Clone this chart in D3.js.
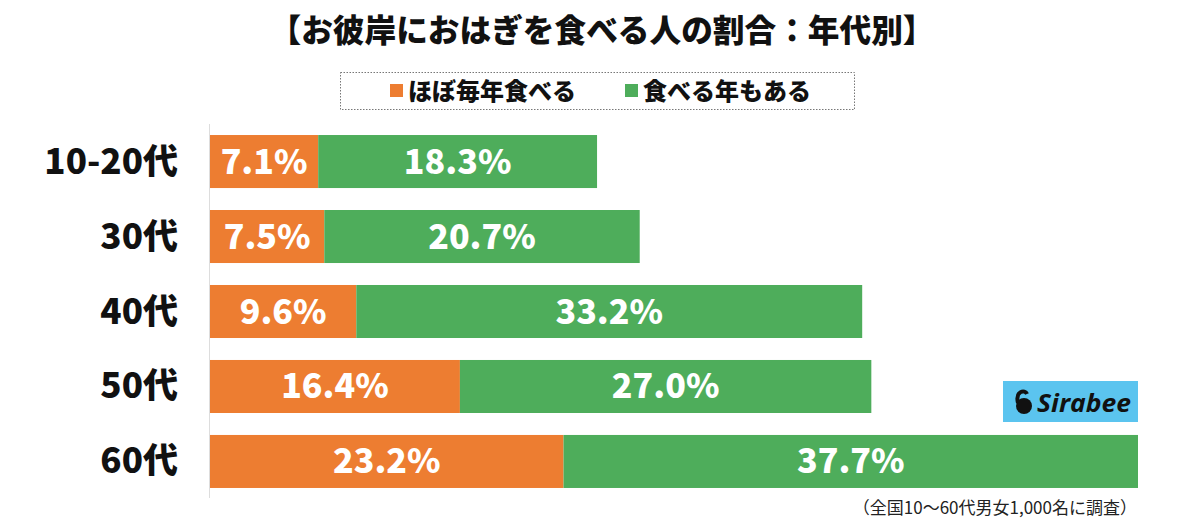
<!DOCTYPE html>
<html><head><meta charset="utf-8">
<script src="https://cdn.jsdelivr.net/npm/d3@7"></script>
<style>
html,body{margin:0;padding:0;background:#fff;}
svg{display:block;font-family:"Noto Sans CJK JP","Noto Sans",sans-serif;}
</style></head>
<body>
<svg id="chart" width="1200" height="528"></svg>
<script>
const categories = ["10-20代","30代","40代","50代","60代"];
const everyYear = [7.1, 7.5, 9.6, 16.4, 23.2];
const sometimes = [18.3, 20.7, 33.2, 27.0, 37.7];
const seriesNames = ["ほぼ毎年食べる","食べる年もある"];
const title = "【お彼岸におはぎを食べる人の割合：年代別】";
const note = "（全国10〜60代男女1,000名に調査）";

const colors = ["#ED7D31", "#4EAD5B"];
const svg = d3.select("#chart");

const maxTotal = d3.max(categories, (c,i)=>everyYear[i]+sometimes[i]);
const x = d3.scaleLinear().domain([0, maxTotal]).range([210, 1138]);
const y = d3.scaleBand().domain(categories).range([124, 499]).paddingInner(0.293).paddingOuter(0.147);

// title
svg.append("text").attr("x", 602).attr("y", 42).attr("text-anchor","middle")
  .attr("font-size", 32).attr("font-weight", 900).attr("fill","#111")
  .attr("textLength", 665).attr("lengthAdjust","spacingAndGlyphs").text(title);

// legend box
svg.append("rect").attr("x",340.5).attr("y",72.5).attr("width",514).attr("height",37)
  .attr("fill","none").attr("stroke","#777").attr("stroke-width",1).attr("stroke-dasharray","1.5,1.5");
const legendX = [390, 625];
seriesNames.forEach((n,i)=>{
  svg.append("rect").attr("x",legendX[i]).attr("y",84).attr("width",13).attr("height",13).attr("fill",colors[i]);
  svg.append("text").attr("x",legendX[i]+18).attr("y",100).attr("font-size",24).attr("font-weight",900)
    .attr("fill","#111").text(n);
});

// axis line
svg.append("line").attr("x1",209.5).attr("x2",209.5).attr("y1",124).attr("y2",498)
  .attr("stroke","#ddd").attr("stroke-width",1);

// bars
const rows = categories.map((c,i)=>({c, a: everyYear[i], b: sometimes[i]}));
const g = svg.append("g");
rows.forEach(r=>{
  const segs = [{v0:0, v1:r.a, col:colors[0], v:r.a},{v0:r.a, v1:r.a+r.b, col:colors[1], v:r.b}];
  segs.forEach(s=>{
    g.append("rect").attr("x", x(s.v0)).attr("y", y(r.c)).attr("width", x(s.v1)-x(s.v0))
      .attr("height", y.bandwidth()).attr("fill", s.col);
    g.append("text").attr("x",(x(s.v0)+x(s.v1))/2).attr("y", y(r.c)+y.bandwidth()/2+12)
      .attr("text-anchor","middle").attr("font-size",34).attr("font-weight",900)
      .attr("font-family","'Noto Sans CJK JP', sans-serif")
      .attr("fill","#fff").text(s.v.toFixed(1)+"%");
  });
  svg.append("text").attr("x",178).attr("y", y(r.c)+y.bandwidth()/2+12).attr("text-anchor","end")
    .attr("font-size",35).attr("font-weight",900).attr("fill","#111").text(r.c);
});

// Sirabee logo
const lg = svg.append("g").attr("transform","translate(1003,381)");
lg.append("rect").attr("width",135).attr("height",41).attr("fill","#5BC4EF");
lg.append("circle").attr("cx",21).attr("cy",25).attr("r",8).attr("fill","#111");
lg.append("path").attr("d","M15,22 C12,10 22,8 24,13").attr("fill","none").attr("stroke","#111").attr("stroke-width",4);
lg.append("text").attr("x",34).attr("y",31).attr("font-size",25).attr("font-weight",700)
  .attr("font-style","italic").attr("font-family","'Open Sans','Noto Sans',sans-serif").attr("fill","#111")
  .attr("textLength",94).attr("lengthAdjust","spacingAndGlyphs").text("Sirabee");

// note
svg.append("text").attr("x",1137).attr("y",514).attr("text-anchor","end")
  .attr("font-size",17).attr("fill","#222").text(note);
</script>
</body></html>
